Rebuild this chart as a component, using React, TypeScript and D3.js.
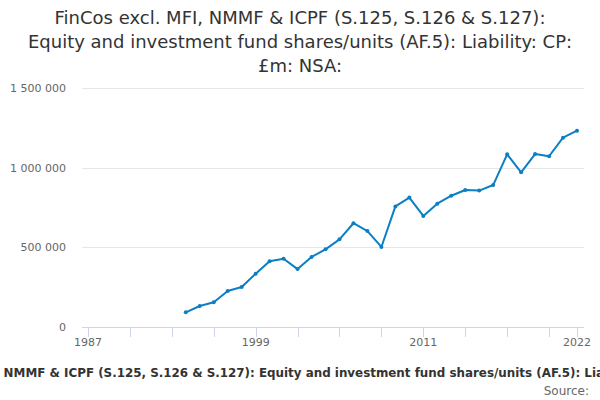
import React, { useRef, useEffect } from 'react';
import * as d3 from 'd3';

const years: number[] = [
    1994, 1995, 1996, 1997, 1998, 1999, 2000, 2001, 2002, 2003,
    2004, 2005, 2006, 2007, 2008, 2009, 2010, 2011, 2012, 2013,
    2014, 2015, 2016, 2017, 2018, 2019, 2020, 2021, 2022,
];

const values: number[] = [
    92000, 132000, 155000, 226000, 251000, 335000, 413000, 429000, 364000, 440000,
    488000, 551000, 652000, 603000, 503000, 758000, 813000, 698000, 775000, 825000,
    861000, 857000, 892000, 1085000, 972000, 1087000, 1073000, 1190000, 1234000,
];

const xTicks: number[] = [1987, 1990, 1993, 1996, 1999, 2002, 2005, 2008, 2011, 2014, 2017, 2020, 2022];
const xLabels: number[] = [1987, 1999, 2011, 2022];
const yTicks: number[] = [0, 500000, 1000000, 1500000];

const titleLines: string[] = [
    'FinCos excl. MFI, NMMF & ICPF (S.125, S.126 & S.127):',
    'Equity and investment fund shares/units (AF.5): Liability: CP:',
    '£m: NSA:',
];
const axisTitle = 'FinCos excl. MFI, NMMF & ICPF (S.125, S.126 & S.127): Equity and investment fund shares/units (AF.5): Liability: CP: £m: NSA:';

const App: React.FC = () => {
    const svgRef = useRef<SVGSVGElement>(null);

    useEffect(() => {
        const width = 600;
        const height = 400;
        const font = '"DejaVu Sans", sans-serif';

        const x = d3.scaleLinear().domain([1987, 2022]).range([88, 577]);
        const y = d3.scaleLinear().domain([0, 1500000]).range([327, 88.3]);

        const svg = d3.select(svgRef.current);
        svg.selectAll('*').remove();
        svg.attr('width', width).attr('height', height);

        svg.append('rect').attr('width', width).attr('height', height).attr('fill', '#fff');

        // title
        svg.append('g')
            .selectAll('text')
            .data(titleLines)
            .join('text')
            .attr('x', width / 2)
            .attr('y', (_, i) => 24 + i * 24)
            .attr('text-anchor', 'middle')
            .attr('font-family', font)
            .attr('font-size', 18)
            .attr('fill', '#333')
            .text(d => d);

        // grid lines and y labels
        svg.append('g')
            .selectAll('line')
            .data(yTicks.filter(d => d > 0))
            .join('line')
            .attr('x1', 82)
            .attr('x2', 584)
            .attr('y1', d => Math.round(y(d)) + 0.5)
            .attr('y2', d => Math.round(y(d)) + 0.5)
            .attr('stroke', '#e6e6e6');

        svg.append('g')
            .selectAll('text')
            .data(yTicks)
            .join('text')
            .attr('x', 66)
            .attr('y', d => y(d) + 4)
            .attr('text-anchor', 'end')
            .attr('font-family', font)
            .attr('font-size', 11)
            .attr('fill', '#666')
            .text(d => d3.format(',')(d).replace(/,/g, ' '));

        // x axis
        svg.append('line')
            .attr('x1', 82)
            .attr('x2', 584)
            .attr('y1', 327.5)
            .attr('y2', 327.5)
            .attr('stroke', '#ccd6eb');

        svg.append('g')
            .selectAll('line')
            .data(xTicks)
            .join('line')
            .attr('x1', d => Math.round(x(d)) + 0.5)
            .attr('x2', d => Math.round(x(d)) + 0.5)
            .attr('y1', 327)
            .attr('y2', 337)
            .attr('stroke', '#ccd6eb');

        svg.append('g')
            .selectAll('text')
            .data(xLabels)
            .join('text')
            .attr('x', d => x(d))
            .attr('y', 346)
            .attr('text-anchor', 'middle')
            .attr('font-family', font)
            .attr('font-size', 11)
            .attr('fill', '#666')
            .text(d => String(d));

        // axis title, wider than the chart as in the original
        svg.append('text')
            .attr('x', 311)
            .attr('y', 377)
            .attr('text-anchor', 'middle')
            .attr('font-family', font)
            .attr('font-size', 11.9)
            .attr('font-weight', 'bold')
            .attr('fill', '#333')
            .text(axisTitle);

        svg.append('text')
            .attr('x', 589)
            .attr('y', 395)
            .attr('text-anchor', 'end')
            .attr('font-family', font)
            .attr('font-size', 12)
            .attr('fill', '#666')
            .text('Source:');

        // series
        const data = years.map((yr, i) => ({ yr, v: values[i] }));
        const line = d3.line<{ yr: number; v: number }>()
            .x(d => x(d.yr))
            .y(d => y(d.v));

        svg.append('path')
            .datum(data)
            .attr('fill', 'none')
            .attr('stroke', '#0b7fc4')
            .attr('stroke-width', 2)
            .attr('stroke-linejoin', 'round')
            .attr('d', line);

        svg.append('g')
            .selectAll('circle')
            .data(data)
            .join('circle')
            .attr('cx', d => x(d.yr))
            .attr('cy', d => y(d.v))
            .attr('r', 2)
            .attr('fill', '#0b7fc4');
    }, []);

    return (
        <div style={{ position: 'absolute', left: 0, top: 0 }}>
            <svg ref={svgRef} style={{ display: 'block' }}></svg>
        </div>
    );
};

export default App;
